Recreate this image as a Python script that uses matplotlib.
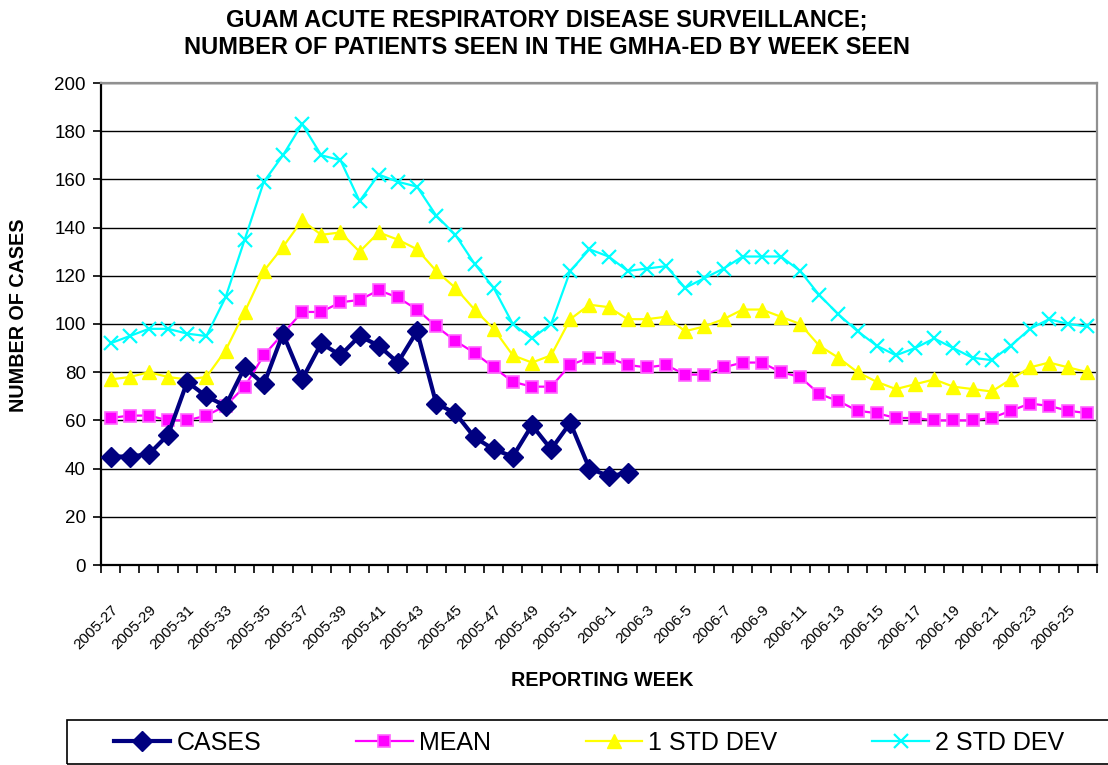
import matplotlib
matplotlib.use("Agg")
import matplotlib.pyplot as plt
from matplotlib.patches import Rectangle
from matplotlib.ticker import MultipleLocator
from matplotlib.transforms import ScaledTranslation

plt.rcParams['font.family'] = ['Liberation Sans', 'DejaVu Sans']

# reporting weeks 2005-27 .. 2006-26
weeks = ['2005-%d' % w for w in range(27, 53)] + ['2006-%d' % w for w in range(1, 27)]

cases = [45, 45, 46, 54, 76, 70, 66, 82, 75, 96, 77, 92, 87, 95, 91, 84, 97, 67,
         63, 53, 48, 45, 58, 48, 59, 40, 37, 38]

mean = [61, 62, 62, 60, 60, 62, 66, 74, 87, 96, 105, 105, 109, 110, 114, 111, 106, 99,
        93, 88, 82, 76, 74, 74, 83, 86, 86, 83, 82, 83, 79, 79, 82, 84, 84, 80,
        78, 71, 68, 64, 63, 61, 61, 60, 60, 60, 61, 64, 67, 66, 64, 63]

std1 = [77, 78, 80, 78, 77, 78, 89, 105, 122, 132, 143, 137, 138, 130, 138, 135, 131, 122,
        115, 106, 98, 87, 84, 87, 102, 108, 107, 102, 102, 103, 97, 99, 102, 106, 106, 103,
        100, 91, 86, 80, 76, 73, 75, 77, 74, 73, 72, 77, 82, 84, 82, 80]

std2 = [92, 95, 98, 98, 96, 95, 111, 135, 159, 170, 183, 170, 168, 151, 162, 159, 157, 145,
        137, 125, 115, 100, 94, 100, 122, 131, 128, 122, 123, 124, 115, 119, 123, 128, 128, 128,
        122, 112, 104, 97, 91, 87, 90, 94, 90, 86, 85, 91, 98, 102, 100, 99]

W, H = 1108, 765
fig = plt.figure(figsize=(W / 100, H / 100), dpi=100)
ax = fig.add_axes([101 / W, 1 - 565 / H, (1097 - 101) / W, (565 - 83) / H])

x_all = list(range(len(weeks)))
l1, = ax.plot(x_all[:len(cases)], cases, color='#000080', lw=3, marker='D', ms=10,
              mfc='#000080', mec='#000080', label='CASES', zorder=5)
l2, = ax.plot(x_all, mean, color='#FF00FF', lw=1.6, marker='s', ms=8,
              mfc='#FF00FF', mec='#FF66FF', mew=1.2, label='MEAN', zorder=4)
l3, = ax.plot(x_all, std1, color='#FFFF00', lw=1.6, marker='^', ms=10,
              mfc='#FFFF00', mec='#FFFF00', label='1 STD DEV', zorder=3)
l4, = ax.plot(x_all, std2, color='#00FFFF', lw=1.6, marker='x', ms=10, mew=1.6,
              mec='#00FFFF', label='2 STD DEV', zorder=2)

ax.set_xlim(-0.5, len(weeks) - 0.5)
ax.set_ylim(0, 200)
ax.yaxis.set_major_locator(MultipleLocator(20))
ax.grid(axis='y', color='black', lw=1)
ax.set_axisbelow(True)

ax.set_xticks(x_all[::2])
ax.set_xticklabels(weeks[::2], rotation=45, ha='right', rotation_mode='anchor', fontsize=11)
shift = ScaledTranslation(-0.17, 0, fig.dpi_scale_trans)
for lab in ax.get_xticklabels():
    lab.set_transform(lab.get_transform() + shift)
ax.set_xticks([i - 0.5 for i in range(len(weeks) + 1)], minor=True)
ax.tick_params(axis='x', which='major', length=0, pad=27)
ax.tick_params(axis='x', which='minor', length=6, width=1.2, color='black', direction='out')
ax.tick_params(axis='y', length=6, width=1.2, direction='out', labelsize=13.5, pad=5)

for s in ['left', 'bottom']:
    ax.spines[s].set_color('black')
    ax.spines[s].set_linewidth(1.6)
for s in ['top', 'right']:
    ax.spines[s].set_color('#909090')
    ax.spines[s].set_linewidth(1.6)

fig.text(547 / W, 1 - 34 / H, 'GUAM ACUTE RESPIRATORY DISEASE SURVEILLANCE;\n'
         'NUMBER OF PATIENTS SEEN IN THE GMHA-ED BY WEEK SEEN',
         ha='center', va='center', fontsize=17, fontweight='bold', linespacing=1.25)
fig.text(19 / W, 1 - 315 / H, 'NUMBER OF CASES', rotation=90, ha='center', va='center',
         fontsize=14.2, fontweight='bold')
fig.text(602 / W, 1 - 680 / H, 'REPORTING WEEK', ha='center', va='center',
         fontsize=14.2, fontweight='bold')

# legend box running off the right edge
fig.patches.append(Rectangle((67 / W, 1 - 764 / H), (1130 - 67) / W, 44 / H,
                             transform=fig.transFigure, fill=False, edgecolor='black', lw=1.2))
fig.legend(handles=[l1, l2, l3, l4], ncol=4, loc='center left',
           bbox_to_anchor=(104 / W, 1 - 743 / H), frameon=False, fontsize=18,
           handlelength=2.25, handletextpad=0.25, columnspacing=3.8, borderaxespad=0)

fig.savefig('out.png', dpi=100)
